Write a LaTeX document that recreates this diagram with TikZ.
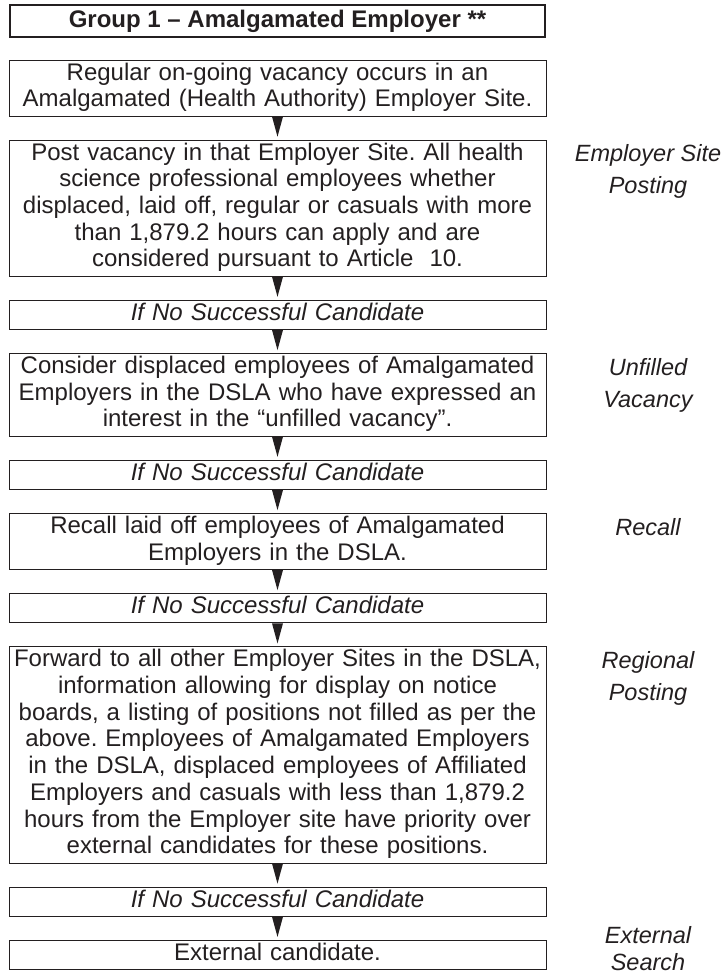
\documentclass[tikz,border=0pt]{standalone}
\usepackage{fontspec}
\setmainfont{Liberation Sans}
\usetikzlibrary{positioning}
\definecolor{ink}{RGB}{35,31,32}
\frenchspacing
\begin{document}
\begin{tikzpicture}[x=1pt,y=1pt,node distance=23.1pt,
  box/.style={draw=ink,line width=0.9pt,text=ink,minimum width=537pt,text width=530pt,
    inner xsep=3.5pt,inner ysep=1.3pt,align=center,font=\fontsize{24}{26.7}\selectfont,
    execute at begin node=\strut,execute at end node=\strut},
  ifno/.style={box,font=\itshape\fontsize{24}{26.7}\selectfont},
  head/.style={draw=ink,line width=2.4pt,text=ink,minimum width=535pt,minimum height=32pt,
    inner sep=0pt,font=\bfseries\fontsize{24}{26.7}\selectfont},
  side/.style={text=ink,align=center,inner sep=0pt,font=\itshape\fontsize{23.5}{32}\selectfont}]
  \useasboundingbox (0,0) rectangle (723,-975);
  \node[head] (grp) at (277.5,-21) {Group 1 -- Amalgamated Employer **};
  \node[box,below=21.5pt of grp] (vac) {Regular on-going vacancy occurs in an\\
    Amalgamated (Health Authority) Employer Site.};
  \node[box,below=of vac] (post) {Post vacancy in that Employer Site. All health\\
    science professional employees whether\\
    displaced, laid off, regular or casuals with more\\
    than 1,879.2 hours can apply and are\\
    considered pursuant to Article~~10.};
  \node[ifno,below=of post] (noa) {If No Successful Candidate};
  \node[box,below=of noa] (unf) {Consider displaced employees of Amalgamated\\
    Employers in the DSLA who have expressed an\\
    interest in the “unfilled vacancy”.};
  \node[ifno,below=of unf] (nob) {If No Successful Candidate};
  \node[box,below=of nob] (rec) {Recall laid off employees of Amalgamated\\
    Employers in the DSLA.};
  \node[ifno,below=of rec] (noc) {If No Successful Candidate};
  \node[box,below=of noc] (fwd) {Forward to all other Employer Sites in the DSLA,\\
    information allowing for display on notice\\
    boards, a listing of positions not filled as per the\\
    above. Employees of Amalgamated Employers\\
    in the DSLA, displaced employees of Affiliated\\
    Employers and casuals with less than 1,879.2\\
    hours from the Employer site have priority over\\
    external candidates for these positions.};
  \node[ifno,below=of fwd] (nod) {If No Successful Candidate};
  \node[box,below=of nod] (ext) {External candidate.};
  \coordinate (col) at (648,0);
  \node[side,anchor=north,yshift=-5pt] (lpost) at (col |- post.north) {Employer Site\\Posting};
  \node[side,anchor=north,yshift=-5pt] (lunf) at (col |- unf.north) {Unfilled\\Vacancy};
  \node[side,anchor=north,yshift=-5pt] (lrec) at (col |- rec.north) {Recall};
  \node[side,anchor=north,yshift=-5pt] (lfwd) at (col |- fwd.north) {Regional\\Posting};
  \node[side,anchor=south,yshift=-1pt,font=\itshape\fontsize{23.5}{26.7}\selectfont] (lext)
    at (col |- ext.south) {External\\Search};
  \foreach \a/\b in {vac/post,post/noa,noa/unf,unf/nob,nob/rec,rec/noc,noc/fwd,fwd/nod,nod/ext}
    \fill[ink] ([xshift=-5.5pt]\a.south) -- ([xshift=5.5pt]\a.south) -- ([yshift=3pt]\b.north) -- cycle;
\end{tikzpicture}
\end{document}
